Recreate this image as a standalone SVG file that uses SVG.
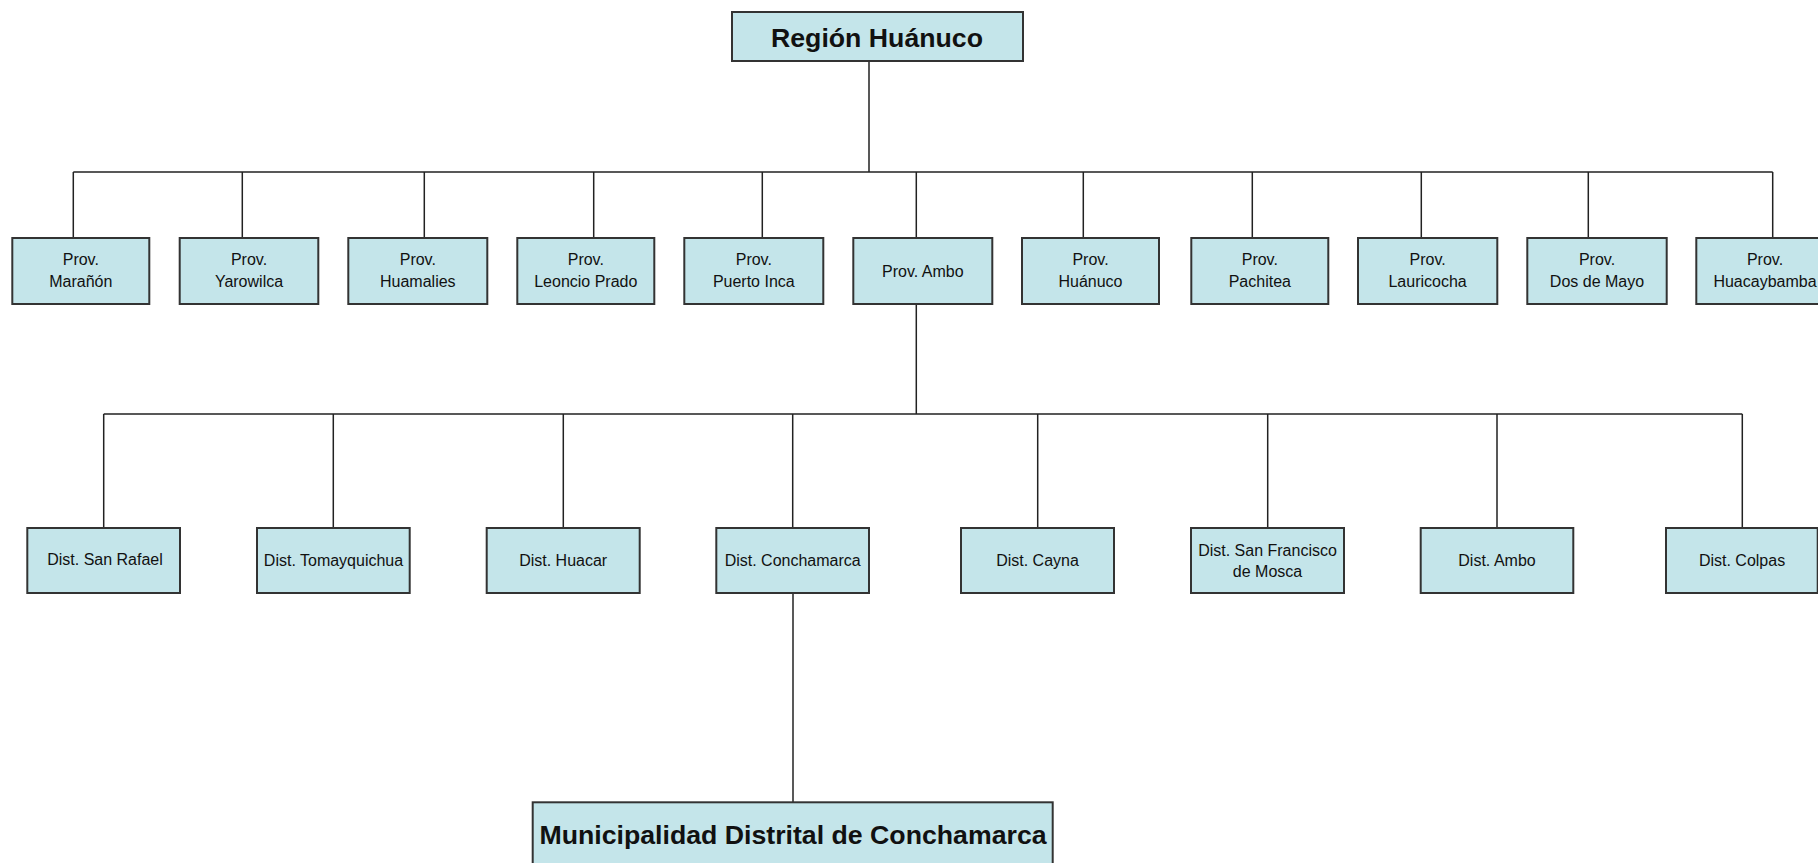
<svg xmlns="http://www.w3.org/2000/svg" width="1818" height="863" viewBox="0 0 1818 863">
<style>
.box{fill:#c4e5ea;stroke:#333;stroke-width:2}
.ln{fill:none;stroke:#222;stroke-width:1.5}
.t{font-family:"Liberation Sans",Arial,sans-serif;font-size:16px;fill:#111;text-anchor:middle}
.b{font-family:"Liberation Sans",Arial,sans-serif;font-size:26.7px;font-weight:bold;fill:#111;text-anchor:middle}
</style>
<rect width="1818" height="863" fill="#fff"/>
<g id="connectors">
<path class="ln" d="M869,61V172M73.3,172H1772.7"/>
<path class="ln" d="M73.3,172V238M242.3,172V238M424.3,172V238M593.7,172V238M762.3,172V238M916.3,172V238M1083.3,172V238M1252.3,172V238M1421.3,172V238M1588.3,172V238M1772.7,172V238"/>
<path class="ln" d="M916.3,304V414M103.7,414H1742.3"/>
<path class="ln" d="M103.7,414V528M333.3,414V528M563.3,414V528M792.7,414V528M1037.7,414V528M1267.7,414V528M1497,414V528M1742.3,414V528"/>
<path class="ln" d="M793,593V802"/>
</g>
<g id="region"><rect class="box" x="732" y="12" width="291" height="49"/><text class="b" x="877" y="47">Región Huánuco</text></g>
<g id="prov-maranon"><rect class="box" x="12.3" y="238" width="137" height="66"/><text class="t" x="80.8" y="265">Prov.</text><text class="t" x="80.8" y="287">Marañón</text></g>
<g id="prov-yarowilca"><rect class="box" x="179.7" y="238" width="138.6" height="66"/><text class="t" x="249" y="265">Prov.</text><text class="t" x="249" y="287">Yarowilca</text></g>
<g id="prov-huamalies"><rect class="box" x="348.3" y="238" width="139" height="66"/><text class="t" x="417.8" y="265">Prov.</text><text class="t" x="417.8" y="287">Huamalies</text></g>
<g id="prov-leoncio"><rect class="box" x="517.3" y="238" width="137" height="66"/><text class="t" x="585.8" y="265">Prov.</text><text class="t" x="585.8" y="287">Leoncio Prado</text></g>
<g id="prov-puerto"><rect class="box" x="684.3" y="238" width="139" height="66"/><text class="t" x="753.8" y="265">Prov.</text><text class="t" x="753.8" y="287">Puerto Inca</text></g>
<g id="prov-ambo"><rect class="box" x="853.3" y="238" width="139" height="66"/><text class="t" x="922.8" y="277">Prov. Ambo</text></g>
<g id="prov-huanuco"><rect class="box" x="1022" y="238" width="137" height="66"/><text class="t" x="1090.5" y="265">Prov.</text><text class="t" x="1090.5" y="287">Huánuco</text></g>
<g id="prov-pachitea"><rect class="box" x="1191.3" y="238" width="137" height="66"/><text class="t" x="1259.8" y="265">Prov.</text><text class="t" x="1259.8" y="287">Pachitea</text></g>
<g id="prov-lauricocha"><rect class="box" x="1358" y="238" width="139.3" height="66"/><text class="t" x="1427.6" y="265">Prov.</text><text class="t" x="1427.6" y="287">Lauricocha</text></g>
<g id="prov-dosdemayo"><rect class="box" x="1527.3" y="238" width="139.4" height="66"/><text class="t" x="1597" y="265">Prov.</text><text class="t" x="1597" y="287">Dos de Mayo</text></g>
<g id="prov-huacaybamba"><rect class="box" x="1696.3" y="238" width="139" height="66"/><text class="t" x="1765" y="265">Prov.</text><text class="t" x="1765" y="287">Huacaybamba</text></g>
<g id="dist-sanrafael"><rect class="box" x="27.3" y="528" width="152.7" height="65"/><text class="t" x="105" y="565">Dist. San Rafael</text></g>
<g id="dist-tomayquichua"><rect class="box" x="257" y="528" width="152.7" height="65"/><text class="t" x="333.5" y="566">Dist. Tomayquichua</text></g>
<g id="dist-huacar"><rect class="box" x="486.7" y="528" width="153" height="65"/><text class="t" x="563.2" y="566">Dist. Huacar</text></g>
<g id="dist-conchamarca"><rect class="box" x="716.3" y="528" width="152.7" height="65"/><text class="t" x="792.7" y="566">Dist. Conchamarca</text></g>
<g id="dist-cayna"><rect class="box" x="961" y="528" width="153" height="65"/><text class="t" x="1037.5" y="566">Dist. Cayna</text></g>
<g id="dist-sanfrancisco"><rect class="box" x="1191" y="528" width="153" height="65"/><text class="t" x="1267.5" y="556">Dist. San Francisco</text><text class="t" x="1267.5" y="577">de Mosca</text></g>
<g id="dist-ambo"><rect class="box" x="1420.7" y="528" width="152.6" height="65"/><text class="t" x="1497" y="566">Dist. Ambo</text></g>
<g id="dist-colpas"><rect class="box" x="1666" y="528" width="151.7" height="65"/><text class="t" x="1742" y="566">Dist. Colpas</text></g>
<g id="municipalidad"><rect class="box" x="532.7" y="802.3" width="520" height="80"/><text class="b" x="793" y="844">Municipalidad Distrital de Conchamarca</text></g>
</svg>
